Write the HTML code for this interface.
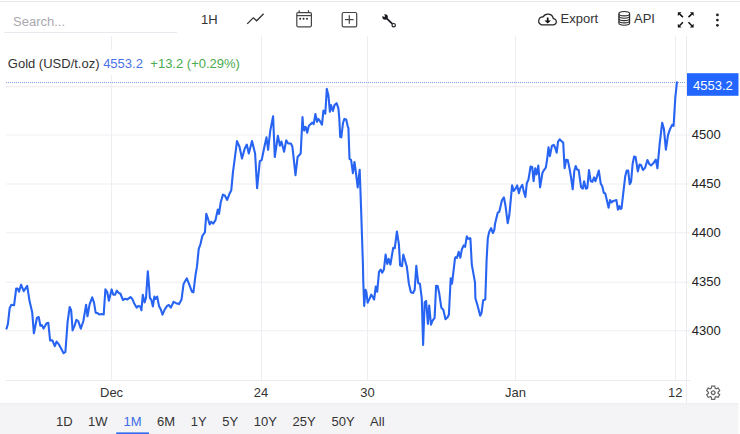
<!DOCTYPE html>
<html><head><meta charset="utf-8">
<style>
html,body{margin:0;padding:0;background:#fff;}
body{width:740px;height:434px;overflow:hidden;position:relative;font-family:"Liberation Sans",Arial,sans-serif;}
svg{position:absolute;left:0;top:0;}
</style></head>
<body>
<svg width="740" height="434" viewBox="0 0 740 434" font-family="Liberation Sans, Arial, sans-serif" font-size="13">
<!-- top border -->
<rect x="0" y="1" width="740" height="1" fill="#e7e5ea"/>
<!-- search -->
<text x="13" y="26" fill="#a9a8ae">Search...</text>
<rect x="4" y="32" width="173" height="1" fill="#ebe9ef"/>
<!-- toolbar -->
<text x="201.1" y="24" fill="#333">1H</text>
<polyline points="247.2,23.9 253.3,17.8 256.7,20.8 263.6,13.8" fill="none" stroke="#333" stroke-width="1.3"/>
<!-- calendar -->
<g fill="none" stroke="#444" stroke-width="1.2">
<rect x="296.8" y="12.6" width="14.6" height="14.2" rx="1.2"/>
<line x1="296.8" y1="15.6" x2="311.4" y2="15.6"/>
<line x1="299.2" y1="10.2" x2="299.2" y2="12.6"/>
<line x1="308.5" y1="10.2" x2="308.5" y2="12.6"/>
</g>
<g fill="#222"><circle cx="300.2" cy="18.8" r="0.95"/><circle cx="303.6" cy="18.8" r="0.95"/><circle cx="307" cy="18.8" r="0.95"/></g>
<!-- plus square -->
<g fill="none" stroke="#444" stroke-width="1.2">
<rect x="342.2" y="12.5" width="14.5" height="14.4" rx="1.4"/>
<line x1="349.3" y1="15.3" x2="349.3" y2="23.8"/>
<line x1="345" y1="19.6" x2="353.6" y2="19.6"/>
</g>
<!-- wrench -->
<circle cx="385.1" cy="17" r="2.75" fill="#1c1c24"/>
<polygon points="385.06,16.33 384.43,16.96 381.42,15.59 383.69,13.32" fill="#fff"/>
<g fill="none" stroke="#1c1c24">
<line x1="386.3" y1="18.2" x2="392.4" y2="23.8" stroke-width="1.75"/>
<circle cx="393.7" cy="25.2" r="1.7" stroke-width="1.15"/>
</g>
<!-- export -->
<path d="M541.6,24.9 H553.1 A3.15,3.15 0 0 0 553.3,18.6 A5.5,5.5 0 0 0 543.1,16.9 A4.1,4.1 0 0 0 541.6,24.9 Z" fill="none" stroke="#222" stroke-width="1.25"/>
<path d="M546.85,17.5 v2.9 h-2.45 l3.3,3.1 l3.3,-3.1 h-2.45 v-2.9 z" fill="#111"/>
<text x="560.5" y="23.4" fill="#333">Export</text>
<!-- database -->
<g fill="none" stroke="#2a2a2a" stroke-width="1.15">
<ellipse cx="624.25" cy="13.7" rx="5.35" ry="2.2"/>
<path d="M618.9,13.7 v9.3 a5.35,2.2 0 0 0 10.7,0 v-9.3"/>
<path d="M618.9,16.05 a5.35,2.2 0 0 0 10.7,0"/>
<path d="M618.9,18.4 a5.35,2.2 0 0 0 10.7,0"/>
<path d="M618.9,20.7 a5.35,2.2 0 0 0 10.7,0"/>
</g>
<text x="634" y="23.4" fill="#333">API</text>
<!-- fullscreen -->
<g stroke="#111" stroke-width="1.5" fill="none">
<line x1="679.5" y1="13.9" x2="682.9" y2="17.1"/>
<line x1="691.9" y1="13.9" x2="688.5" y2="17.1"/>
<line x1="679.5" y1="25.8" x2="682.9" y2="22.3"/>
<line x1="691.9" y1="25.8" x2="688.5" y2="22.3"/>
</g>
<g fill="#111">
<path d="M677.8,12.2 h3.7 l-3.7,3.7 z"/>
<path d="M693.6,12.2 h-3.7 l3.7,3.7 z"/>
<path d="M677.8,27.5 h3.7 l-3.7,-3.7 z"/>
<path d="M693.6,27.5 h-3.7 l3.7,-3.7 z"/>
</g>
<g fill="#222"><circle cx="717.4" cy="14.9" r="1.4"/><circle cx="717.4" cy="20.1" r="1.4"/><circle cx="717.4" cy="25.3" r="1.4"/></g>

<!-- grid -->
<g fill="#efedf2">
<rect x="6" y="86" width="684" height="1"/>
<rect x="6" y="134.5" width="684" height="1"/>
<rect x="6" y="183.5" width="684" height="1"/>
<rect x="6" y="232.3" width="684" height="1"/>
<rect x="6" y="281.7" width="684" height="1"/>
<rect x="6" y="330.3" width="684" height="1"/>
<rect x="111" y="36" width="1" height="344"/>
<rect x="261" y="36" width="1" height="344"/>
<rect x="367" y="36" width="1" height="344"/>
<rect x="515" y="36" width="1" height="344"/>
<rect x="675" y="36" width="1" height="344"/>
</g>
<rect x="686" y="36" width="1" height="367" fill="#ebeaee"/>
<rect x="6" y="380" width="684" height="1" fill="#ebeaee"/>
<!-- legend -->
<rect x="6" y="50" width="250" height="25" fill="#fff"/>
<text x="7.8" y="67.6" fill="#333"><tspan>Gold (USD/t.oz)</tspan><tspan fill="#4a72e8" dx="3.6">4553.2</tspan><tspan fill="#4aaa4e" dx="7.4">+13.2 (+0.29%)</tspan></text>
<!-- price line -->
<line x1="6" y1="82.5" x2="686" y2="82.5" stroke="#7f9ae6" stroke-width="1" stroke-dasharray="1 1"/>
<!-- series -->
<polyline points="6.5,328.6 7.9,324.0 9.7,307.9 11.4,304.7 14.1,305.2 16.2,288.5 17.6,288.5 19.0,291.7 21.1,284.7 23.7,291.2 27.2,285.9 29.5,300.8 32.2,312.3 33.9,333.3 36.9,318.0 38.7,317.0 40.4,325.8 41.8,325.1 43.6,328.6 46.6,323.3 48.3,322.8 50.1,340.4 52.4,340.4 54.8,346.2 56.6,341.6 58.9,344.4 61.5,349.2 63.6,353.2 65.4,351.8 67.6,321.9 69.7,307.0 71.2,310.5 72.6,330.4 74.7,325.4 76.4,319.8 78.2,321.0 80.8,328.6 83.4,321.0 86.1,304.7 87.5,316.3 89.6,304.4 92.2,297.3 94.0,302.6 95.7,312.8 97.5,313.1 99.3,314.5 101.5,314.0 103.7,314.5 105.4,289.4 107.2,292.0 108.9,300.8 111.6,289.4 113.3,294.7 115.1,294.7 116.8,290.6 118.6,292.9 120.3,293.5 123.0,300.0 125.1,298.7 127.4,299.4 130.5,297.1 132.3,298.9 134.1,303.2 136.7,307.6 138.4,305.9 140.2,306.4 141.4,310.3 142.8,294.8 144.6,302.4 146.0,298.0 147.8,271.3 149.0,285.7 149.9,298.0 151.3,299.7 152.9,306.4 154.3,296.6 155.7,298.9 157.2,296.6 159.0,305.9 160.8,309.4 162.5,314.7 164.8,309.4 167.1,305.9 168.8,305.0 170.9,307.6 173.6,301.8 176.2,303.2 178.9,304.1 181.5,299.7 183.6,283.9 186.8,278.3 189.4,284.8 192.0,291.8 193.4,292.4 195.5,275.1 197.0,266.4 198.7,249.1 200.5,244.0 202.3,235.9 204.9,232.4 206.3,213.9 208.1,219.2 209.7,224.5 211.1,221.8 213.2,223.6 215.5,220.1 217.8,209.5 219.0,213.9 220.7,202.5 222.9,194.6 224.8,195.5 227.2,199.9 229.5,193.7 231.3,190.2 232.9,172.6 234.3,162.2 237.0,141.1 239.5,146.7 242.0,158.5 244.7,148.7 246.8,144.6 248.8,153.5 252.0,141.1 255.1,153.5 257.1,188.1 259.8,161.2 261.7,160.1 264.4,146.7 266.5,137.3 268.1,149.8 270.2,131.1 273.1,116.2 274.8,157.0 277.9,135.7 279.9,145.6 281.4,141.5 284.1,151.8 286.2,140.4 288.2,143.5 290.9,143.5 292.4,146.7 295.5,175.1 297.6,157.0 300.7,153.5 302.5,117.0 303.4,129.5 304.3,130.4 305.2,126.7 306.1,127.6 307.2,132.7 308.9,125.8 310.7,124.1 312.4,122.6 313.7,124.1 315.4,114.0 317.0,121.7 318.3,118.9 320.0,121.2 322.0,124.7 323.4,110.6 324.6,111.1 325.3,113.8 326.8,88.9 328.4,95.2 329.9,111.8 331.0,105.1 332.9,110.9 334.5,105.1 336.6,103.2 338.4,108.3 339.3,118.4 340.2,136.9 341.3,137.3 343.0,123.0 344.4,118.9 346.2,119.4 347.6,125.8 348.4,128.0 349.5,158.8 351.1,159.8 352.9,173.1 354.5,162.0 356.0,173.1 357.7,187.4 359.7,169.7 361.1,209.0 362.9,264.0 363.3,282.4 364.2,305.9 365.5,289.7 366.4,292.2 367.6,302.7 369.6,298.6 371.2,294.6 372.8,297.0 374.1,299.5 375.8,286.5 377.2,291.8 379.0,271.9 380.6,269.5 382.2,272.7 383.9,269.5 385.6,254.6 387.2,263.9 388.7,258.9 390.4,264.6 393.2,247.8 394.8,248.2 396.9,231.5 398.9,244.4 400.1,265.4 402.0,266.2 403.3,254.6 406.9,267.0 408.8,283.2 410.9,292.2 413.1,293.0 414.7,289.7 416.3,265.9 418.2,283.2 419.9,283.7 421.8,298.6 423.1,345.0 424.7,302.2 426.1,300.9 427.9,324.0 429.2,305.6 431.0,324.6 432.6,320.6 434.6,317.9 436.1,285.7 437.7,286.0 439.3,293.8 441.3,307.6 443.4,310.0 445.5,319.2 447.6,317.2 448.9,314.5 450.7,278.4 452.0,283.7 453.9,267.8 455.0,258.2 455.8,257.0 457.0,257.8 458.7,251.8 460.3,257.8 461.9,249.3 463.7,245.4 465.1,246.9 466.8,236.4 468.0,238.8 469.2,238.4 470.4,238.4 471.8,264.6 475.0,282.4 475.4,298.2 477.4,305.0 480.2,315.8 481.5,313.1 483.2,300.2 485.3,299.5 486.6,260.0 487.8,238.4 489.1,232.3 491.1,228.2 492.9,233.1 494.3,229.9 495.1,223.5 497.8,212.6 499.2,211.9 501.9,200.4 503.9,197.4 505.5,205.8 507.7,223.2 509.3,215.3 512.1,185.4 513.7,190.9 515.5,188.8 517.2,185.4 518.9,193.3 520.2,188.2 522.3,184.8 523.6,190.9 525.4,197.0 526.8,183.2 528.4,179.8 530.6,166.5 532.2,166.9 533.6,181.2 535.2,168.3 536.6,174.4 538.3,165.6 540.1,187.3 542.4,173.0 543.8,170.3 545.8,167.6 547.2,158.8 548.5,147.2 549.9,156.1 551.9,145.9 553.7,144.8 555.3,147.9 556.7,152.7 558.0,141.8 559.7,139.3 561.4,141.1 563.2,142.5 564.6,168.3 566.2,159.7 567.8,160.1 569.6,169.0 571.0,177.1 572.7,189.3 574.3,171.0 575.7,166.0 577.1,169.6 578.7,170.1 581.1,187.3 582.8,188.7 584.1,181.2 585.9,188.7 587.3,188.0 589.0,170.1 590.7,181.2 592.3,181.9 594.1,177.4 595.4,181.2 596.8,177.1 598.8,170.6 600.8,183.9 602.2,186.0 603.8,192.8 605.3,193.5 606.8,200.1 608.6,207.8 610.0,200.1 611.5,202.4 613.4,200.9 616.4,200.1 617.9,209.7 619.3,206.0 620.4,209.0 621.5,208.3 623.3,192.8 625.2,176.5 626.7,170.6 628.2,170.6 629.7,184.2 631.1,181.7 632.6,164.0 634.1,156.6 635.6,157.1 637.8,171.4 639.5,164.5 641.0,165.0 642.9,169.9 645.1,167.7 647.4,160.0 649.3,164.0 651.0,165.5 653.3,163.3 655.8,159.6 657.4,168.3 659.7,143.5 662.2,122.7 663.9,128.9 665.9,149.7 668.0,135.2 670.1,128.9 672.2,124.8 673.6,125.8 675.3,97.8 676.9,82.3" fill="none" stroke="#2864f2" stroke-width="2.1" stroke-linejoin="round" stroke-linecap="round"/>
<!-- y labels -->
<rect x="687" y="73.2" width="51.5" height="22.6" fill="#2266ff"/>
<text x="693" y="90" fill="#fff">4553.2</text>
<g fill="#222">
<text x="691.7" y="139.2">4500</text>
<text x="691.7" y="188.2">4450</text>
<text x="691.7" y="237">4400</text>
<text x="691.7" y="286.4">4350</text>
<text x="691.7" y="335">4300</text>
</g>
<!-- x labels -->
<g fill="#333">
<text x="100" y="397.3">Dec</text>
<text x="253.8" y="397">24</text>
<text x="360.3" y="397">30</text>
<text x="505" y="397">Jan</text>
<text x="668" y="397">12</text>
</g>
<!-- gear -->
<g transform="translate(713.2,392.7)" fill="none" stroke="#666" stroke-width="1.2">
<path id="gear" d="M-1.95,-4.39L-1.53,-6.63L1.53,-6.63L1.95,-4.39A4.8,4.8 0 0 1 2.82,-3.88L2.82,-3.88L4.97,-4.64L6.50,-1.99L4.77,-0.50A4.8,4.8 0 0 1 4.77,0.50L4.77,0.50L6.50,1.99L4.97,4.64L2.82,3.88A4.8,4.8 0 0 1 1.95,4.39L1.95,4.39L1.53,6.63L-1.53,6.63L-1.95,4.39A4.8,4.8 0 0 1 -2.82,3.88L-2.82,3.88L-4.97,4.64L-6.50,1.99L-4.77,0.50A4.8,4.8 0 0 1 -4.77,-0.50L-4.77,-0.50L-6.50,-1.99L-4.97,-4.64L-2.82,-3.88A4.8,4.8 0 0 1 -1.95,-4.39Z"/>
<circle r="1.85" stroke-width="1.3"/>
</g>
<!-- bottom band -->
<rect x="0" y="403" width="738.4" height="31" fill="#f4f3f6"/>
<rect x="0" y="403" width="738.4" height="1.5" fill="#f0eff3"/>
<g fill="#333">
<text x="56.1" y="426.4">1D</text>
<text x="88.1" y="426.4">1W</text>
<text x="157" y="426.4">6M</text>
<text x="190.7" y="426.4">1Y</text>
<text x="222.2" y="426.4">5Y</text>
<text x="253.8" y="426.4">10Y</text>
<text x="292.6" y="426.4">25Y</text>
<text x="331.5" y="426.4">50Y</text>
<text x="370.1" y="426.4">All</text>
</g>
<text x="123.5" y="426.4" fill="#3d6ee8">1M</text>
<rect x="116.2" y="432.4" width="32.8" height="1.8" fill="#2e68f0"/>
</svg>
</body></html>
